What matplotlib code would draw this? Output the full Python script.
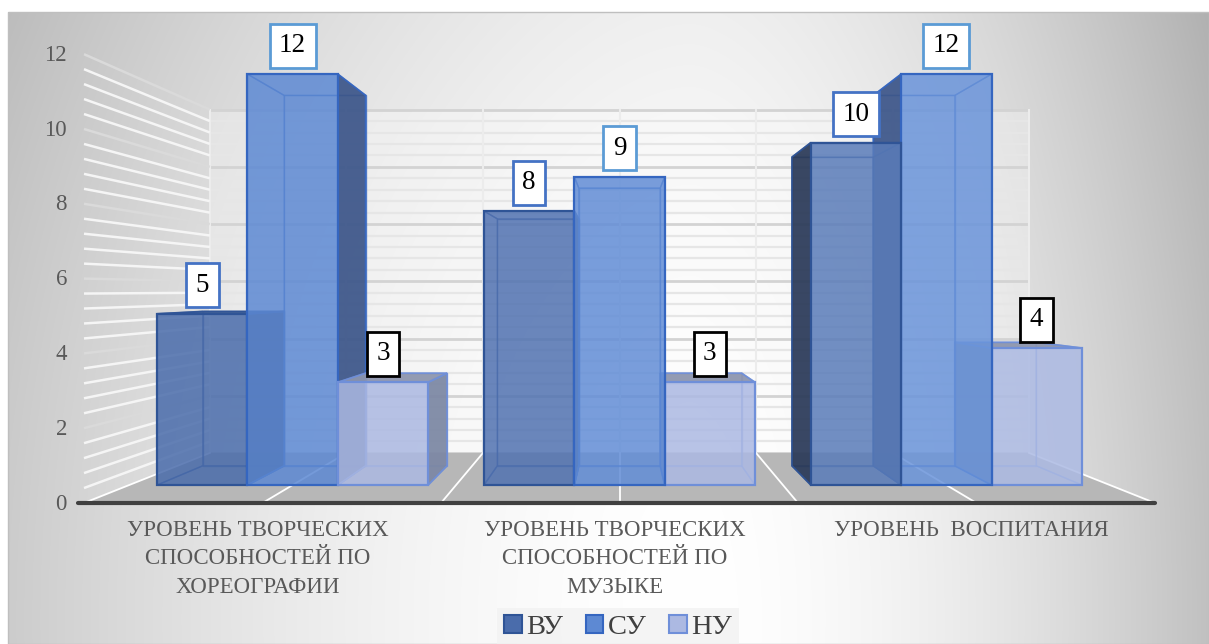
import numpy as np
import matplotlib.pyplot as plt
from matplotlib.colors import to_rgb
from matplotlib.patches import Polygon, Patch, Rectangle

plt.rcParams['font.family'] = ['Liberation Serif', 'DejaVu Serif']

# data
categories = ['УРОВЕНЬ ТВОРЧЕСКИХ\nСПОСОБНОСТЕЙ ПО\nХОРЕОГРАФИИ',
              'УРОВЕНЬ ТВОРЧЕСКИХ\nСПОСОБНОСТЕЙ ПО\nМУЗЫКЕ',
              'УРОВЕНЬ  ВОСПИТАНИЯ']
series = ['ВУ', 'СУ', 'НУ']
vu = [5, 8, 10]
su = [12, 9, 12]
nu = [3, 3, 4]
values = [vu, su, nu]
yticks = [0, 2, 4, 6, 8, 10, 12]

# colours per series: front, side, top, edge, label box edge
front_c = ['#4a6cab', '#5d89d3', '#acb9e2']
side_c = ['#2b3a58', '#3d5689', '#7c87a3']
top_c = ['#3f5d94', '#4d76bf', '#8c94ad']
edge_c = ['#2f5496', '#3566c0', '#6f8fd9']
box_c = ['#4472c4', '#5b9bd5', 'black']
light = [0.0, 0.07, 0.17]    # lighting gets brighter to the right

# pseudo 3D layout (Excel style perspective)
W, H = 1209, 644
X_LEFT, CAT_W = 84, 357
Y_FLOOR, PX_UNIT = 503, 37.4
XV = X_LEFT + 1.5 * CAT_W
YV = 290
DEPTH_K = 0.3072
D0, D1 = 0.30, 0.69          # bar depth inside the floor
GROUP_PAD, BAR_W = 0.0854, 0.2764
VMAX = 12


def proj(u, v, d):
    s = 1.0 / (1.0 + DEPTH_K * d)
    x0 = X_LEFT + u * CAT_W
    y0 = Y_FLOOR - v * PX_UNIT
    return XV + (x0 - XV) * s, YV + (y0 - YV) * s


def poly(pts, **kw):
    ax.add_patch(Polygon([proj(*p) for p in pts], closed=True, **kw))


def lit(col, t):
    c = np.array(to_rgb(col))
    return tuple(c + (np.array(to_rgb('#a8c8ff')) - c) * t)


fig = plt.figure(figsize=(W / 100, H / 100), dpi=100)
ax = fig.add_axes([0, 0, 1, 1])
ax.set_xlim(0, W)
ax.set_ylim(H, 0)
ax.axis('off')

# background gradient of the chart area
xs = np.linspace(8, W, 1200)
ys = np.linspace(12, H, 630)
gx, gy = np.meshgrid(xs, ys)
cx, cy = 690, 620
nx = np.where(gx < cx, (gx - cx) / (cx - 8), (gx - cx) / (W - cx))
ny = (gy - cy) / 1100
g = 1 - 0.2 * np.abs(nx) ** 1.7 - 0.2 * ny ** 2 - 0.045 * np.clip(nx, 0, 1) ** 2
ax.imshow(np.dstack([g, g, g]), extent=(8, W, H, 12), origin='upper',
          aspect='auto', zorder=0, interpolation='bilinear')
ax.add_patch(Rectangle((8, 12), W - 8, H - 12, fill=False,
                       edgecolor='#bfbfbf', lw=1, zorder=1))

grid_v = np.arange(0, VMAX + 0.01, 0.4)

# back wall
poly([(0, 0, 1), (3, 0, 1), (3, VMAX, 1), (0, VMAX, 1)],
     facecolor='white', alpha=0.3, edgecolor='none', zorder=1)
for v in grid_v:
    major = abs(v / 2 - round(v / 2)) < 1e-6
    (x1, y1), (x2, y2) = proj(0, v, 1), proj(3, v, 1)
    ax.plot([x1, x2], [y1, y2], color='#d3d3d3' if major else '#e6e6e6',
            lw=2 if major else 1.6, zorder=2, solid_capstyle='butt')
for u in np.arange(0, 3.01, 0.5):
    (x1, y1), (x2, y2) = proj(u, 0, 1), proj(u, VMAX, 1)
    ax.plot([x1, x2], [y1, y2], color='#ececec', lw=1.5, zorder=2)

# left wall
for v in grid_v:
    major = abs(v / 2 - round(v / 2)) < 1e-6
    (x1, y1), (x2, y2) = proj(0, v, 0), proj(0, v, 1)
    ax.plot([x1, x2], [y1, y2], color='#dadada' if major else '#f5f5f5',
            lw=1.8, zorder=2, solid_capstyle='butt')

# floor
poly([(0, 0, 0), (3, 0, 0), (3, 0, 1), (0, 0, 1)],
     facecolor='#b7b7b7', edgecolor='none', zorder=3)
for u in np.arange(0, 3.01, 0.5):
    (x1, y1), (x2, y2) = proj(u, 0, 0), proj(u, 0, 1)
    ax.plot([x1, x2], [y1, y2], color='white', lw=1.3, zorder=3)
(x1, y1), (x2, y2) = proj(0, 0, 0), proj(3, 0, 0)
ax.plot([x1 - 6, x2], [y1, y2], color='#404040', lw=3, zorder=4,
        solid_capstyle='round')

# bars
bars = []
for j in range(len(series)):
    for i in range(len(categories)):
        u0 = i + GROUP_PAD + j * BAR_W
        u1 = u0 + BAR_W
        cxs = X_LEFT + (u0 + u1) / 2 * CAT_W
        bars.append((abs(cxs - XV), i, j, u0, u1, values[j][i]))
bars.sort(key=lambda b: -b[0])

z = 10
for _, i, j, u0, u1, v in bars:
    faces = {
        'front': [(u0, 0, D0), (u1, 0, D0), (u1, v, D0), (u0, v, D0)],
        'back': [(u0, 0, D1), (u1, 0, D1), (u1, v, D1), (u0, v, D1)],
        'left': [(u0, 0, D0), (u0, 0, D1), (u0, v, D1), (u0, v, D0)],
        'right': [(u1, 0, D0), (u1, 0, D1), (u1, v, D1), (u1, v, D0)],
        'top': [(u0, v, D0), (u1, v, D0), (u1, v, D1), (u0, v, D1)],
        'bottom': [(u0, 0, D0), (u1, 0, D0), (u1, 0, D1), (u0, 0, D1)],
    }
    vis = {
        'left': X_LEFT + u0 * CAT_W > XV,
        'right': X_LEFT + u1 * CAT_W < XV,
        'top': Y_FLOOR - v * PX_UNIT > YV,
    }
    fc = lit(front_c[j], light[i] * (1 if j < 2 else 0.3))
    hidden = ['back', 'bottom'] + [k for k in ('left', 'right', 'top') if not vis[k]]
    shown = [k for k in ('left', 'right', 'top') if vis[k]]
    for k in hidden:
        poly(faces[k], facecolor=fc, alpha=0.18, edgecolor='none', zorder=z)
        poly(faces[k], fill=False, edgecolor=edge_c[j], lw=1, alpha=0.7, zorder=z)
    z += 1
    for k in shown:
        col = top_c[j] if k == 'top' else side_c[j]
        poly(faces[k], facecolor=col, alpha=0.92, edgecolor=edge_c[j], lw=1.3, zorder=z)
    z += 1
    poly(faces['front'], facecolor=fc, alpha=0.82, edgecolor='none', zorder=z)
    poly(faces['front'], fill=False, edgecolor=edge_c[j], lw=1.6, zorder=z)
    z += 1

    # data label
    xl, yl = proj((u0 + u1) / 2, v, D0)
    ax.text(xl, yl - 16, str(v), ha='center', va='bottom', fontsize=19.5,
            color='black', zorder=50,
            bbox=dict(boxstyle='square,pad=0.35', facecolor='white',
                      edgecolor=box_c[j], lw=2))

# value axis labels
for t in yticks:
    x, y = proj(0, t, 0)
    ax.text(x - 17, y + 1, str(t), ha='right', va='center', fontsize=16.5,
            color='#595959', zorder=5)

# category labels
for i, lab in enumerate(categories):
    x, y = proj(i + 0.5, 0, 0)
    ax.text(x - 5, y + 17, lab, ha='center', va='top', fontsize=16.5,
            color='#595959', linespacing=1.46, zorder=5)

# legend
handles = [Patch(facecolor=front_c[j], edgecolor=edge_c[j], lw=1.5)
           for j in range(len(series))]
leg = fig.legend(handles, series, loc='lower center', ncol=3,
                 bbox_to_anchor=(618 / W, -0.005), fontsize=20.5,
                 frameon=True, fancybox=False, handlelength=0.62,
                 handleheight=0.62, handletextpad=0.15, columnspacing=0.8,
                 borderpad=0.25, borderaxespad=0)
leg.get_frame().set_facecolor('#f2f2f2')
leg.get_frame().set_edgecolor('none')
for t in leg.get_texts():
    t.set_color('#404040')

plt.savefig('out.png', dpi=100)
